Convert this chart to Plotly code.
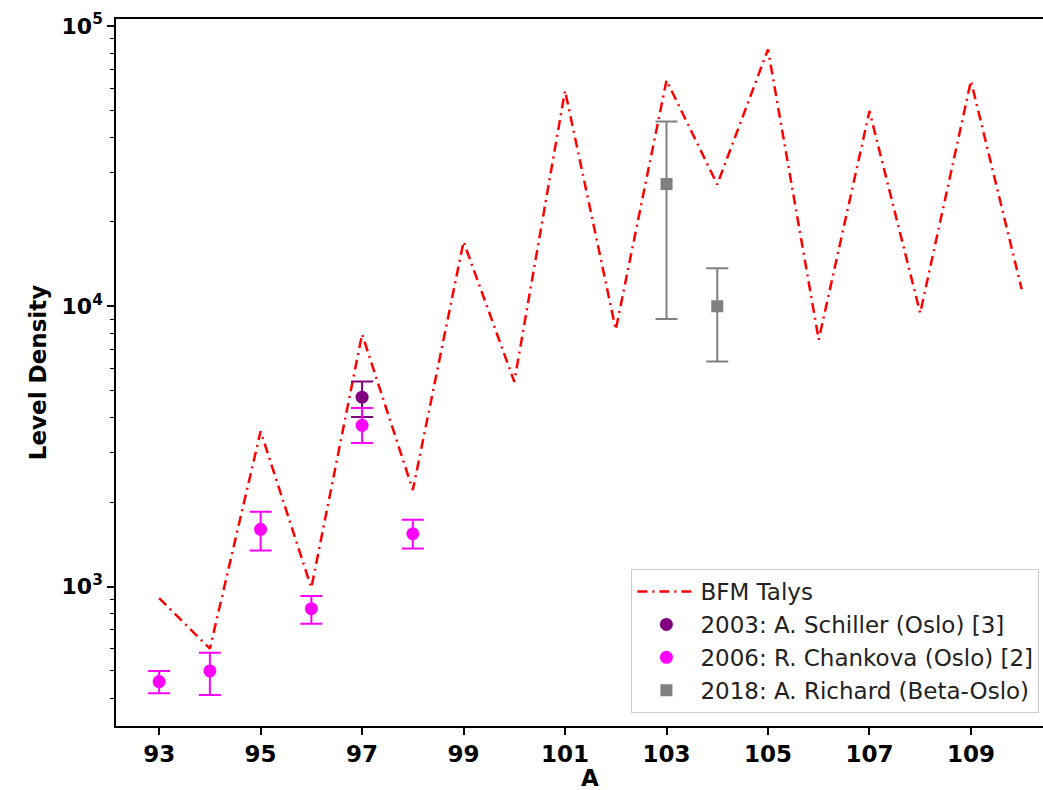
import plotly.graph_objects as go

# BFM Talys theory curve
A_talys = [93, 94, 95, 96, 97, 98, 99, 100, 101, 102, 103, 104, 105, 106, 107, 108, 109, 110]
ld_talys = [910, 600, 3580, 990, 7950, 2210, 17000, 5380, 58800, 8260, 64000, 27200,
            82500, 7600, 49700, 9460, 63700, 11500]

# 2003: A. Schiller (Oslo)
A_schiller = [97]
ld_schiller = [4740]
err_up_schiller = [650]
err_dn_schiller = [710]

# 2006: R. Chankova (Oslo)
A_chankova = [93, 94, 95, 96, 97, 98]
ld_chankova = [458, 500, 1600, 834, 3760, 1543]
err_up_chankova = [42, 81, 249, 92, 575, 187]
err_dn_chankova = [42, 90, 255, 98, 508, 176]

# 2018: A. Richard (Beta-Oslo)
A_richard = [103, 104]
ld_richard = [27300, 10000]
err_up_richard = [18300, 3670]
err_dn_richard = [18300, 3650]

x_ticks = [93, 95, 97, 99, 101, 103, 105, 107, 109]
y_tickvals = [1e3, 1e4, 1e5]
y_ticktext = ["<b>10<sup>3</sup></b>", "<b>10<sup>4</sup></b>", "<b>10<sup>5</sup></b>"]
y_minor = [400, 500, 600, 700, 800, 900,
           2000, 3000, 4000, 5000, 6000, 7000, 8000, 9000,
           20000, 30000, 40000, 50000, 60000, 70000, 80000, 90000]

FONT = "DejaVu Sans"

fig = go.Figure()
fig.add_trace(go.Scatter(
    x=A_talys, y=ld_talys, mode="lines", name="BFM Talys",
    line=dict(color="red", width=2.5, dash="10px,5px,2px,5px"),
))
fig.add_trace(go.Scatter(
    x=A_schiller, y=ld_schiller, mode="markers", name="2003: A. Schiller (Oslo) [3]",
    marker=dict(color="purple", size=13, symbol="circle"),
    error_y=dict(type="data", symmetric=False, array=err_up_schiller,
                 arrayminus=err_dn_schiller, color="purple", thickness=2, width=11),
))
fig.add_trace(go.Scatter(
    x=A_chankova, y=ld_chankova, mode="markers", name="2006: R. Chankova (Oslo) [2]",
    marker=dict(color="magenta", size=13, symbol="circle"),
    error_y=dict(type="data", symmetric=False, array=err_up_chankova,
                 arrayminus=err_dn_chankova, color="magenta", thickness=2, width=11),
))
fig.add_trace(go.Scatter(
    x=A_richard, y=ld_richard, mode="markers", name="2018: A. Richard (Beta-Oslo)",
    marker=dict(color="gray", size=12, symbol="square"),
    error_y=dict(type="data", symmetric=False, array=err_up_richard,
                 arrayminus=err_dn_richard, color="gray", thickness=2, width=11),
))

fig.update_layout(
    width=1043, height=790,
    margin=dict(l=116, r=0, t=19, b=64, autoexpand=False),
    paper_bgcolor="white", plot_bgcolor="white",
    font=dict(family=FONT, color="black"),
    showlegend=True,
    legend=dict(
        x=0.556, y=0.222, xanchor="left", yanchor="top",
        bgcolor="rgba(255,255,255,0.8)", bordercolor="#cccccc", borderwidth=1,
        font=dict(family=FONT, size=23, color="#222222"),
        itemwidth=58, tracegroupgap=0,
    ),
    xaxis=dict(
        range=[92.15, 110.42], tickvals=x_ticks,
        ticktext=[f"<b>{v}</b>" for v in x_ticks],
        showgrid=False, zeroline=False,
        showline=True, linecolor="black", linewidth=1.5, mirror=True,
        ticks="outside", ticklen=7, tickwidth=1.5, tickcolor="black",
        tickfont=dict(family=FONT, size=23),
    ),
    yaxis=dict(
        type="log", range=[2.5025, 5.025],
        tickvals=y_tickvals, ticktext=y_ticktext,
        showgrid=False, zeroline=False,
        showline=True, linecolor="black", linewidth=1.5, mirror=False,
        ticks="outside", ticklen=7, tickwidth=1.5, tickcolor="black",
        tickfont=dict(family=FONT, size=22),
        minor=dict(tickvals=y_minor, ticks="outside", ticklen=4, tickwidth=1,
                   tickcolor="black", showgrid=False),
        title=dict(text="<b>Level Density</b>", font=dict(family=FONT, size=23), standoff=8),
    ),
    annotations=[dict(
        text="<b>A</b>", xref="paper", yref="paper", x=0.5113, y=-0.052,
        xanchor="center", yanchor="top", showarrow=False,
        font=dict(family=FONT, size=23, color="black"),
    )],
)

fig.write_html("out.html")
